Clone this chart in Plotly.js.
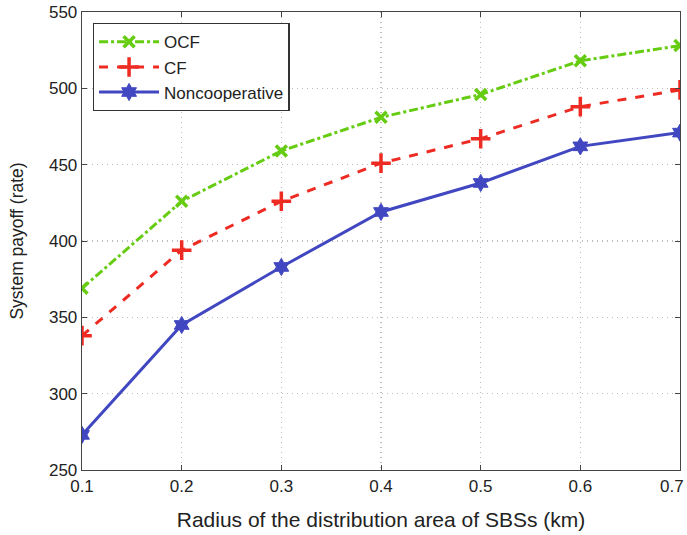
<!DOCTYPE html>
<html><head><meta charset="utf-8">
<script src="https://cdn.plot.ly/plotly-3.0.1.min.js"></script>
<style>body{margin:0;background:#fff}#chart{width:687px;height:535px}</style>
</head><body><div id="chart"></div>
<script>
const radius = [0.1, 0.2, 0.3, 0.4, 0.5, 0.6, 0.7];
const xTickText = ["0.1", "0.2", "0.3", "0.4", "0.5", "0.6", "0.7"];
const ocf = [369, 426, 459, 481, 496, 518, 528];
const cf = [338, 394, 426, 451, 467, 488, 499];
const noncoop = [273, 345, 383, 419, 438, 462, 471];
const seriesNames = ["OCF", "CF", "Noncooperative"];

const FONT = "Liberation Sans, Arial, Helvetica, sans-serif";

const traces = [
  {x: radius, y: ocf, name: seriesNames[0], mode: "lines+markers",
   line: {color: "#66cc11", width: 3, dash: "dashdot"},
   marker: {symbol: "x-thin", size: 11, line: {color: "#66cc11", width: 3.5}}},
  {x: radius, y: cf, name: seriesNames[1], mode: "lines+markers",
   line: {color: "#ee2b22", width: 3, dash: "dash"},
   marker: {symbol: "cross-thin", size: 14, line: {color: "#ee2b22", width: 3.5}}},
  {x: radius, y: noncoop, name: seriesNames[2], mode: "lines+markers",
   line: {color: "#4147c0", width: 3, dash: "solid"},
   marker: {symbol: "hexagram", size: 13, color: "#4147c0", line: {color: "#4147c0", width: 1}}}
];

const axisCommon = {
  showline: true, mirror: "ticks", linecolor: "#444", linewidth: 1.3,
  ticks: "inside", ticklen: 5, tickcolor: "#444",
  showgrid: true, gridcolor: "#bdbdbd", griddash: "1px,4px", gridwidth: 1.5,
  zeroline: false,
  tickfont: {family: FONT, size: 17, color: "#222"}
};

// last x tick label is placed flush with the right edge (as in the reference)
const lastIdx = radius.length - 1;
const shownTickText = xTickText.map((t, i) => i === lastIdx ? "" : t);

const layout = {
  width: 687, height: 535,
  margin: {l: 82, r: 7, t: 12, b: 65},
  paper_bgcolor: "#fff", plot_bgcolor: "#fff",
  showlegend: true,
  legend: {x: 0.018, y: 0.976, xanchor: "left", yanchor: "top",
    bgcolor: "#fff", bordercolor: "#333", borderwidth: 1.3,
    itemwidth: 60,
    font: {family: FONT, size: 17, color: "#222"},
    tracegroupgap: 0},
  xaxis: Object.assign({}, axisCommon, {
    range: [0.1, 0.7], tickvals: radius, ticktext: shownTickText,
    title: {text: "Radius of the distribution area of SBSs (km)", standoff: 17,
      font: {family: FONT, size: 21, color: "#222"}}
  }),
  yaxis: Object.assign({}, axisCommon, {
    range: [250, 550], dtick: 50,
    title: {text: "System payoff (rate)", standoff: 20,
      font: {family: FONT, size: 17.5, color: "#222"}}
  }),
  annotations: [{
    text: xTickText[lastIdx], xref: "paper", yref: "paper", x: 1, y: 0,
    xanchor: "right", yanchor: "top", xshift: 6, yshift: -5, showarrow: false,
    font: {family: FONT, size: 17, color: "#222"}
  }]
};

Plotly.newPlot("chart", traces, layout, {displayModeBar: false, staticPlot: true});
</script></body></html>
